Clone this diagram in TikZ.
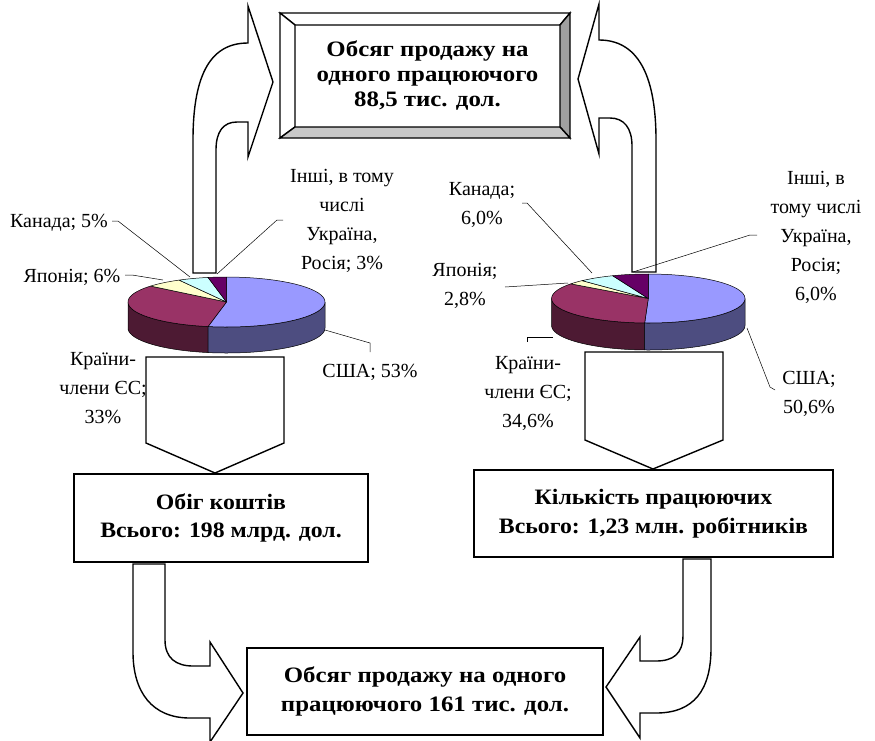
\documentclass[tikz,border=0pt]{standalone}
\usepackage{fontspec}
\setmainfont{Liberation Serif}
\newfontfamily\widebox[FakeStretch=1.13]{Liberation Serif}
\newfontfamily\midbox[FakeStretch=1.08]{Liberation Serif}
\definecolor{usa}{HTML}{9999FF}
\definecolor{usaside}{HTML}{4D4D80}
\definecolor{eu}{HTML}{993366}
\definecolor{euside}{HTML}{4D1A33}
\definecolor{jap}{HTML}{FFFFCC}
\definecolor{can}{HTML}{CCFFFF}
\definecolor{oth}{HTML}{660066}
\definecolor{bevdark}{HTML}{A0A0A0}
\definecolor{bevlight}{HTML}{C8C8C8}
% top face of a pie slice: cx cy rx ry from to colour
\newcommand\slicetop[7]{\filldraw[pieedge, fill=#7] (#1,#2) -- plot[domain=#5:#6, samples=40] ({#1+#3*cos(\x)},{#2-#4*sin(\x)}) -- cycle;}
% front wall of a pie slice: cx cy rx ry depth from to colour
\newcommand\sliceside[8]{\filldraw[pieedge, fill=#8] plot[domain=#6:#7, samples=40] ({#1+#3*cos(\x)},{#2-#4*sin(\x)}) -- plot[domain=#6:#7, samples=40] ({#1+#3*cos(#6+#7-\x)},{#2+#5-#4*sin(#6+#7-\x)}) -- cycle;}
\begin{document}
\begin{tikzpicture}[x=1pt,y=-1pt,
  pieedge/.style={draw=black, line width=0.5pt, line join=round},
  blockarrow/.style={draw=black, line width=1.4pt, fill=white, line join=miter},
  boxnode/.style={draw=black, line width=1.4pt, fill=white, align=center, inner sep=0pt,
    font=\midbox\bfseries\fontsize{22}{28.5}\selectfont},
  lbl/.style={align=center, inner sep=0pt, font=\fontsize{20}{29}\selectfont},
  leader/.style={draw=black, line width=0.5pt}]
\useasboundingbox (0,0) rectangle (875,740);

% ---------- bevelled box at the top ----------
\coordinate (bo1) at (280,13); \coordinate (bo2) at (570,13);
\coordinate (bo3) at (570,138); \coordinate (bo4) at (280,138);
\coordinate (bi1) at (295,25); \coordinate (bi2) at (560,25);
\coordinate (bi3) at (560,127); \coordinate (bi4) at (295,127);
\filldraw[fill=white, line width=1.4pt] (bo1) -- (bo2) -- (bi2) -- (bi1) -- cycle;
\filldraw[fill=white, line width=1.4pt] (bo1) -- (bi1) -- (bi4) -- (bo4) -- cycle;
\filldraw[fill=bevdark, line width=1.4pt] (bo2) -- (bo3) -- (bi3) -- (bi2) -- cycle;
\filldraw[fill=bevlight, line width=1.4pt] (bo4) -- (bi4) -- (bi3) -- (bo3) -- cycle;
\node[boxnode, draw=none, fill=none, font=\widebox\bfseries\fontsize{22}{25}\selectfont]
  (top) at (427.5,76) {Обсяг продажу на\\одного працюючого\\88,5 тис. дол.};

% ---------- curved arrows into the top box ----------
\draw[blockarrow] (193,273) -- (193,140) .. controls (193,72) and (212,43) .. (248,43)
  -- (248,6) -- (273,82) -- (248,157) -- (248,122) -- (237,122)
  .. controls (223,122) and (216,132) .. (216,150) -- (216,273) -- cycle;
\draw[blockarrow] (656,272) -- (656,140) .. controls (656,72) and (636,40) .. (599,40)
  -- (599,4) -- (578,79) -- (599,154) -- (599,118) -- (610,118)
  .. controls (624,118) and (632,128) .. (632,146) -- (632,272) -- cycle;

% ---------- left pie ----------
\sliceside{226.5}{302}{98.5}{25}{26}{180}{259.2}{euside}
\sliceside{226.5}{302}{98.5}{25}{26}{-100.8}{0}{usaside}
\slicetop{226.5}{302}{98.5}{25}{-100.8}{90}{usa}
\slicetop{226.5}{302}{98.5}{25}{140.4}{259.2}{eu}
\slicetop{226.5}{302}{98.5}{25}{118.8}{140.4}{jap}
\slicetop{226.5}{302}{98.5}{25}{100.8}{118.8}{can}
\slicetop{226.5}{302}{98.5}{25}{90}{100.8}{oth}

% ---------- right pie ----------
\sliceside{648.3}{298.5}{96.7}{24.5}{27}{180}{267.84}{euside}
\sliceside{648.3}{298.5}{96.7}{24.5}{27}{-92.16}{0}{usaside}
\slicetop{648.3}{298.5}{96.7}{24.5}{-92.16}{90}{usa}
\slicetop{648.3}{298.5}{96.7}{24.5}{143.28}{267.84}{eu}
\slicetop{648.3}{298.5}{96.7}{24.5}{133.2}{143.28}{jap}
\slicetop{648.3}{298.5}{96.7}{24.5}{111.6}{133.2}{can}
\slicetop{648.3}{298.5}{96.7}{24.5}{90}{111.6}{oth}

% ---------- left pie labels ----------
\node[lbl] (loth) at (342,221) {Інші, в тому\\числі\\Україна,\\Росія; 3\%};
\node[lbl] (lcan) at (59,223) {Канада; 5\%};
\node[lbl] (ljap) at (72,277) {Японія; 6\%};
\node[lbl] (leu) at (103,388) {Країни-\\члени ЄС;\\33\%};
\node[lbl] (lusa) at (370,372) {США; 53\%};
\coordinate (loth1) at (283,220); \coordinate (loth2) at (277,220); \coordinate (loth3) at (217,274);
\coordinate (lcan1) at (112,221); \coordinate (lcan2) at (118,221); \coordinate (lcan3) at (190,277);
\coordinate (ljap1) at (125,275); \coordinate (ljap2) at (132,275); \coordinate (ljap3) at (163,280);
\coordinate (lusa1) at (325,330); \coordinate (lusa2) at (370,343); \coordinate (lusa3) at (370,352);
\draw[leader] (loth1) -- (loth2) -- (loth3);
\draw[leader] (lcan1) -- (lcan2) -- (lcan3);
\draw[leader] (ljap1) -- (ljap2) -- (ljap3);
\draw[leader] (lusa1) -- (lusa2) -- (lusa3);

% ---------- right pie labels ----------
\node[lbl] (rcan) at (482,205) {Канада;\\6,0\%};
\node[lbl] (rjap) at (465,286) {Японія;\\2,8\%};
\node[lbl] (roth) at (816,237) {Інші, в\\тому числі\\Україна,\\Росія;\\6,0\%};
\node[lbl] (rusa) at (809,394) {США;\\50,6\%};
\node[lbl] (reu) at (528,393) {Країни-\\члени ЄС;\\34,6\%};
\coordinate (rcan1) at (522,203); \coordinate (rcan2) at (527,203); \coordinate (rcan3) at (592,273);
\coordinate (rjap1) at (505,287); \coordinate (rjap2) at (568,283);
\coordinate (roth1) at (757,235); \coordinate (roth2) at (750,235); \coordinate (roth3) at (633,272);
\coordinate (rusa1) at (747,328); \coordinate (rusa2) at (770,387); \coordinate (rusa3) at (775,390);
\coordinate (reu1) at (553,337); \coordinate (reu2) at (527,337); \coordinate (reu3) at (527,342);
\draw[leader] (rcan1) -- (rcan2) -- (rcan3);
\draw[leader] (rjap1) -- (rjap2);
\draw[leader] (roth1) -- (roth2) -- (roth3);
\draw[leader] (rusa1) -- (rusa2) -- (rusa3);
\draw[leader] (reu1) -- (reu2) -- (reu3);

% ---------- arrows down from the pies ----------
\draw[blockarrow] (146,357) -- (284,357) -- (284,443) -- (215,473) -- (146,443) -- cycle;
\draw[blockarrow] (585,352) -- (723,352) -- (723,440) -- (653,469) -- (585,440) -- cycle;

% ---------- totals ----------
\node[boxnode, minimum width=294pt, minimum height=88pt] (money) at (221,518)
  {Обіг коштів\\Всього: 198 млрд. дол.};
\node[boxnode, minimum width=359pt, minimum height=87pt] (staff) at (653.5,513.5)
  {Кількість працюючих\\Всього: 1,23 млн. робітників};

% ---------- curved arrows into the result box ----------
\draw[blockarrow] (133,564) -- (165,564) -- (165,640) .. controls (165,658) and (176,666) .. (193,666)
  -- (210,666) -- (210,642) -- (243,693) -- (210,742) -- (210,718) -- (190,718)
  .. controls (152,718) and (133,692) .. (133,652) -- cycle;
\draw[blockarrow] (711,559) -- (683,559) -- (683,635) .. controls (683,654) and (673,661) .. (656,661)
  -- (640,661) -- (640,637) -- (606,687) -- (640,738) -- (640,713) -- (656,713)
  .. controls (694,713) and (711,690) .. (711,648) -- cycle;

\node[boxnode, minimum width=356pt, minimum height=87pt,
  font=\widebox\bfseries\fontsize{22}{29}\selectfont] (result) at (425,691.5)
  {Обсяг продажу на одного\\працюючого 161 тис. дол.};
\end{tikzpicture}
\end{document}
